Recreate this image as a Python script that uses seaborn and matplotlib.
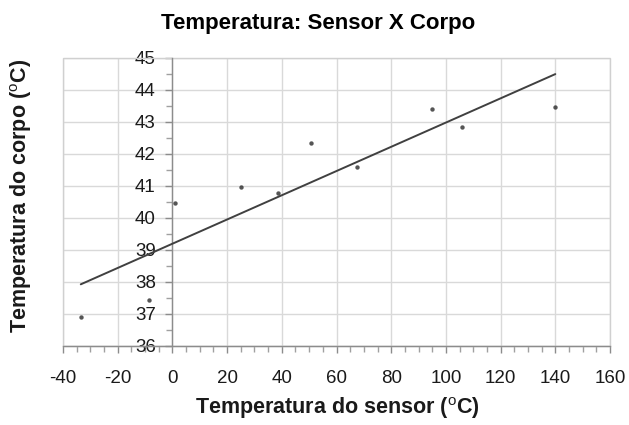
import matplotlib
matplotlib.use("Agg")
import matplotlib.pyplot as plt
import matplotlib.patches as mpatches
from matplotlib.ticker import MultipleLocator
import numpy as np
import pandas as pd
import seaborn as sns

# Data
sensor_temp = [-33.5, -8.4, 1.0, 25.2, 38.6, 50.7, 67.4, 95.0, 106.0, 140.0]
body_temp = [36.90, 37.44, 40.47, 40.97, 40.78, 42.34, 41.60, 43.40, 42.84, 43.47]
x_ticks = [-40, -20, 0, 20, 40, 60, 80, 100, 120, 140, 160]
y_ticks = [36, 37, 38, 39, 40, 41, 42, 43, 44, 45]

title = "Temperatura: Sensor X Corpo"
x_label = r"Temperatura do sensor ($^{\mathrm{o}}$C)"
y_label = r"Temperatura do corpo ($^{\mathrm{o}}$C)"

df = pd.DataFrame({"sensor": sensor_temp, "corpo": body_temp})

sns.set_style("white")
plt.rcParams["font.family"] = ["Liberation Sans", "DejaVu Sans"]
plt.rcParams["axes.unicode_minus"] = False
plt.rcParams["mathtext.fontset"] = "custom"
plt.rcParams["mathtext.rm"] = "Liberation Sans"
plt.rcParams["mathtext.bf"] = "Liberation Sans:bold"

fig = plt.figure(figsize=(6.29, 4.25), dpi=100)
ax = fig.add_axes([63 / 629, 1 - 346 / 425, (610 - 63) / 629, (346 - 58) / 425])

sns.regplot(data=df, x="sensor", y="corpo", ax=ax, ci=None, truncate=True,
            scatter_kws=dict(s=10, color="#2a2a2a", marker="D", linewidths=0, zorder=4),
            line_kws=dict(color="#404040", lw=1.4, zorder=3))

ax.set_xlim(x_ticks[0], x_ticks[-1])
ax.set_ylim(y_ticks[0], y_ticks[-1])
ax.set_xticks(x_ticks)
ax.set_yticks(y_ticks)
ax.xaxis.set_minor_locator(MultipleLocator(5))
ax.yaxis.set_minor_locator(MultipleLocator(0.5))

ax.grid(True, which="major", color="#d9d9d9", lw=1.0, zorder=0)
ax.set_axisbelow(True)

for side in ["top", "right"]:
    ax.spines[side].set_visible(False)
ax.spines["left"].set_position(("data", 0))
ax.spines["left"].set_color("#8c8c8c")
ax.spines["bottom"].set_color("#8c8c8c")
ax.spines["left"].set_linewidth(1.0)
ax.spines["bottom"].set_linewidth(1.0)

frame = mpatches.Rectangle((0, 0), 1, 1, transform=ax.transAxes, fill=False,
                           edgecolor="#d0d0d0", lw=1.0, clip_on=False, zorder=1)
ax.add_patch(frame)

ax.tick_params(axis="both", which="both", bottom=True, left=True, top=False, right=False)
ax.tick_params(axis="both", which="major", direction="out", length=5, width=1,
               color="#8c8c8c", labelsize=13.5, labelcolor="#1a1a1a")
ax.tick_params(axis="both", which="minor", direction="out", length=4, width=1,
               color="#a0a0a0")
ax.tick_params(axis="x", which="major", pad=12)
ax.tick_params(axis="y", which="major", pad=7)

ax.set_xlabel("")
ax.set_ylabel("")
fig.text(337 / 629, 1 - 408 / 425, x_label, ha="center", va="center",
         fontsize=15.5, fontweight="bold", color="#1a1a1a")
fig.text(21 / 629, 1 - 196 / 425, y_label, ha="center", va="center",
         rotation=90, fontsize=15.5, fontweight="bold", color="#1a1a1a")
fig.text(318 / 629, 1 - 24 / 425, title, ha="center", va="center",
         fontsize=16, fontweight="bold", color="#000000")

fig.savefig("out.png", dpi=100)
